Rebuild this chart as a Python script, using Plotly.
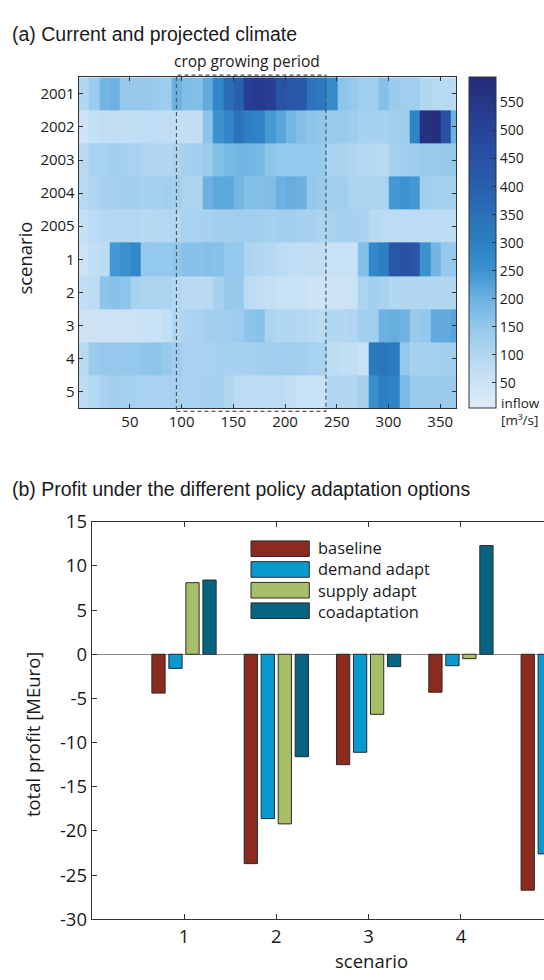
import plotly.graph_objects as go

W, H = 544, 980

# ---------------- data: daily inflow, averaged over 10-day blocks ----------------
day_edges = [0.5 + 10 * k for k in range(37)] + [365.5]
row_labels = ["2001", "2002", "2003", "2004", "2005", "1", "2", "3", "4", "5"]

inflow_2001 = [100, 140, 190, 200, 145, 145, 150, 140, 135, 200, 175, 170, 210, 280, 360, 400, 520, 540, 520,
               440, 430, 420, 340, 320, 270, 160, 150, 130, 130, 170, 140, 130, 130, 100, 90, 90, 85]
inflow_2002 = [45, 65, 70, 70, 70, 70, 75, 75, 70, 70, 70, 70, 160, 250, 280, 340, 300, 290, 240,
               220, 190, 170, 160, 155, 140, 140, 135, 120, 120, 120, 125, 135, 290, 570, 580, 450, 200]
inflow_2003 = [90, 115, 120, 125, 120, 115, 105, 100, 100, 110, 120, 125, 140, 170, 185, 190, 190, 185, 160,
               150, 150, 150, 150, 145, 115, 110, 105, 95, 90, 90, 120, 130, 135, 140, 140, 145, 145]
inflow_2004 = [90, 105, 120, 120, 125, 125, 120, 120, 125, 125, 110, 110, 200, 215, 215, 190, 170, 170, 175,
               200, 205, 200, 145, 140, 130, 125, 110, 110, 110, 110, 240, 250, 240, 130, 120, 120, 120]
inflow_2005 = [65, 85, 95, 95, 95, 95, 90, 95, 95, 100, 115, 115, 120, 125, 125, 130, 130, 125, 120,
               125, 125, 120, 120, 110, 115, 120, 120, 115, 90, 85, 80, 80, 80, 80, 80, 80, 80]
inflow_s1 = [50, 70, 80, 240, 255, 280, 150, 150, 150, 155, 165, 165, 170, 165, 150, 150, 110, 100, 95,
             80, 75, 70, 70, 70, 60, 60, 60, 170, 280, 300, 430, 440, 430, 250, 190, 150, 145]
inflow_s2 = [70, 80, 160, 165, 160, 115, 110, 110, 110, 95, 85, 85, 90, 120, 145, 145, 80, 70, 65,
             60, 60, 55, 45, 45, 50, 50, 50, 110, 125, 115, 100, 100, 100, 100, 100, 100, 100]
inflow_s3 = [50, 50, 50, 50, 50, 50, 55, 55, 70, 100, 110, 115, 125, 130, 130, 135, 160, 165, 110,
             100, 100, 95, 90, 80, 100, 100, 105, 125, 130, 200, 205, 195, 140, 150, 210, 210, 220]
inflow_s4 = [90, 140, 150, 150, 145, 150, 155, 160, 145, 130, 115, 115, 115, 120, 120, 120, 120, 125, 130,
             130, 130, 125, 120, 115, 80, 70, 70, 60, 320, 330, 320, 150, 120, 120, 120, 125, 125]
inflow_s5 = [80, 100, 120, 125, 120, 120, 115, 115, 115, 120, 115, 115, 120, 120, 100, 85, 80, 80, 80,
             80, 70, 60, 60, 60, 100, 100, 100, 120, 260, 300, 290, 180, 140, 140, 140, 140, 140]

inflow_rows = [inflow_2001, inflow_2002, inflow_2003, inflow_2004, inflow_2005,
               inflow_s1, inflow_s2, inflow_s3, inflow_s4, inflow_s5]

crop_start, crop_end = 95, 239.5
cbar_ticks = [50, 100, 150, 200, 250, 300, 350, 400, 450, 500, 550]
day_ticks = [50, 100, 150, 200, 250, 300, 350]

# ---------------- data: total profit per policy option ----------------
scenarios = [1, 2, 3, 4, 5]
profit_baseline = [-4.4, -23.7, -12.5, -4.3, -26.7]
profit_demand = [-1.6, -18.6, -11.1, -1.3, -22.6]
profit_supply = [8.1, -19.2, -6.8, -0.5, None]
profit_coadapt = [8.4, -11.6, -1.4, 12.3, None]
series_names = ["baseline", "demand adapt", "supply adapt", "coadaptation"]
series_colors = ["#8B2A1E", "#0899CE", "#A6BF68", "#076480"]
profit_ticks = [-30, -25, -20, -15, -10, -5, 0, 5, 10, 15]
profit_ticktext = [str(v) for v in profit_ticks]  # plain hyphen for negatives


def px(x):
    return x / W


def py(y):
    return 1 - y / H


AX = "#333333"
TXT = "#1a1a1a"
SANS = "Open Sans"
HELV = "Liberation Sans"

blues = [
    [0.0, "#DFECF8"], [0.08, "#CBE3F6"], [0.16, "#B2D7F1"], [0.25, "#92C7EC"],
    [0.33, "#6CB1E1"], [0.415, "#3C92D0"], [0.5, "#2C80C2"], [0.6, "#2A6DB6"],
    [0.7, "#2959A9"], [0.84, "#26449A"], [1.0, "#262B78"],
]

fig = go.Figure()

fig.add_trace(go.Heatmap(
    z=inflow_rows, x=day_edges, y=list(range(1, 11)),
    zmin=5, zmax=595, colorscale=blues, xaxis="x", yaxis="y",
    hoverinfo="skip",
    colorbar=dict(
        x=px(469), xanchor="left", xpad=0, y=py(234.7), yanchor="middle", ypad=0,
        len=339.5 / H, lenmode="fraction", thickness=27,
        outlinewidth=1, outlinecolor=AX, ticks="inside", ticklen=4, tickcolor=AX,
        tickvals=cbar_ticks, tickfont=dict(family=SANS, size=14, color=TXT),
    ),
))

bar_series = [profit_baseline, profit_demand, profit_supply, profit_coadapt]
for name, vals, col in zip(series_names, bar_series, series_colors):
    fig.add_trace(go.Bar(
        x=scenarios, y=vals, name=name, marker=dict(color=col, line=dict(color="#2b2b2b", width=1)),
        xaxis="x2", yaxis="y2", showlegend=False, hoverinfo="skip",
    ))

shapes = [
    dict(type="rect", xref="x", yref="paper", x0=crop_start, x1=crop_end,
         y0=py(407.7), y1=py(62.7), line=dict(color="#555555", width=1.2, dash="4px,3px"),
         layer="above"),
]
annotations = [
    dict(text="(a) Current and projected climate", x=px(10), y=py(21), xanchor="left", yanchor="middle",
         font=dict(family=HELV, size=19.5, color=TXT)),
    dict(text="crop growing period", x=px(247), y=py(48), xanchor="center", yanchor="middle",
         font=dict(family=SANS, size=15.5, color=TXT)),
    dict(text="scenario", x=px(25), y=py(251), textangle=-90, xanchor="center", yanchor="middle",
         font=dict(family=SANS, size=18.5, color=TXT)),
    dict(text="inflow", x=px(499), y=py(399), xanchor="left", yanchor="middle", height=15,
         font=dict(family=SANS, size=13.5, color=TXT)),
    dict(text="[m³/s]", x=px(499), y=py(416), xanchor="left", yanchor="middle", height=15,
         font=dict(family=SANS, size=13.5, color=TXT)),
    dict(text="(b) Profit under the different policy adaptation options", x=px(10), y=py(487),
         xanchor="left", yanchor="middle", font=dict(family=HELV, size=19.5, color=TXT)),
    dict(text="total profit [MEuro]", x=px(32), y=py(740), textangle=-90, xanchor="center", yanchor="middle",
         font=dict(family=SANS, size=18.5, color=TXT)),
    dict(text="scenario", x=px(371), y=py(971), xanchor="center", yanchor="middle",
         font=dict(family=SANS, size=18.5, color=TXT)),
]

# legend drawn as patches with one multi-line label block
patch_tops = [540.7, 562.0, 583.3, 604.3]
for col, top in zip(series_colors, patch_tops):
    shapes.append(dict(type="rect", xref="paper", yref="paper", x0=px(251), x1=px(309.3),
                       y0=py(top + 16), y1=py(top), fillcolor=col,
                       line=dict(color="#2b2b2b", width=1), layer="above"))
legend_mid = (patch_tops[0] + patch_tops[-1]) / 2 + 8.3
annotations.append(dict(text="<br>".join(series_names), x=px(315.7), y=py(legend_mid),
                        xanchor="left", yanchor="middle", align="left",
                        font=dict(family=SANS, size=16.4, color=TXT)))

for a in annotations:
    a.update(xref="paper", yref="paper", showarrow=False)

fig.update_layout(
    width=W, height=H, margin=dict(l=0, r=0, t=0, b=0),
    paper_bgcolor="white", plot_bgcolor="white",
    barmode="group", bargap=0.263, bargroupgap=0.22,
    xaxis=dict(domain=[px(78.7), px(456.2)], anchor="y", range=[0.5, 365.5],
               tickvals=day_ticks, ticks="inside", ticklen=4, tickcolor=AX,
               showline=True, linecolor=AX, linewidth=1, mirror="ticks", showgrid=False, zeroline=False,
               tickfont=dict(family=SANS, size=15, color=TXT)),
    yaxis=dict(domain=[py(404.5), py(65)], anchor="x", range=[10.5, 0.5],
               tickvals=list(range(1, 11)), ticktext=row_labels, ticks="inside", ticklen=4, tickcolor=AX,
               showline=True, linecolor=AX, linewidth=1, mirror="ticks", showgrid=False, zeroline=False,
               tickfont=dict(family=SANS, size=15, color=TXT)),
    xaxis2=dict(domain=[px(91.7), 1.0], anchor="y2", range=[0, 4.9],
                tickvals=scenarios, ticks="inside", ticklen=5, tickcolor=AX,
                showline=True, linecolor=AX, linewidth=1, mirror="ticks", showgrid=False, zeroline=False,
                tickfont=dict(family=SANS, size=18.5, color=TXT)),
    yaxis2=dict(domain=[py(929), py(521)], anchor="x2", range=[-30, 15],
                tickvals=profit_ticks, ticktext=profit_ticktext, ticks="inside", ticklen=5, tickcolor=AX,
                showline=True, linecolor=AX, linewidth=1, showgrid=False,
                zeroline=True, zerolinecolor="#8a8a8a", zerolinewidth=1,
                tickfont=dict(family=SANS, size=18.5, color=TXT)),
    shapes=shapes, annotations=annotations,
)

fig.write_html("out.html")
